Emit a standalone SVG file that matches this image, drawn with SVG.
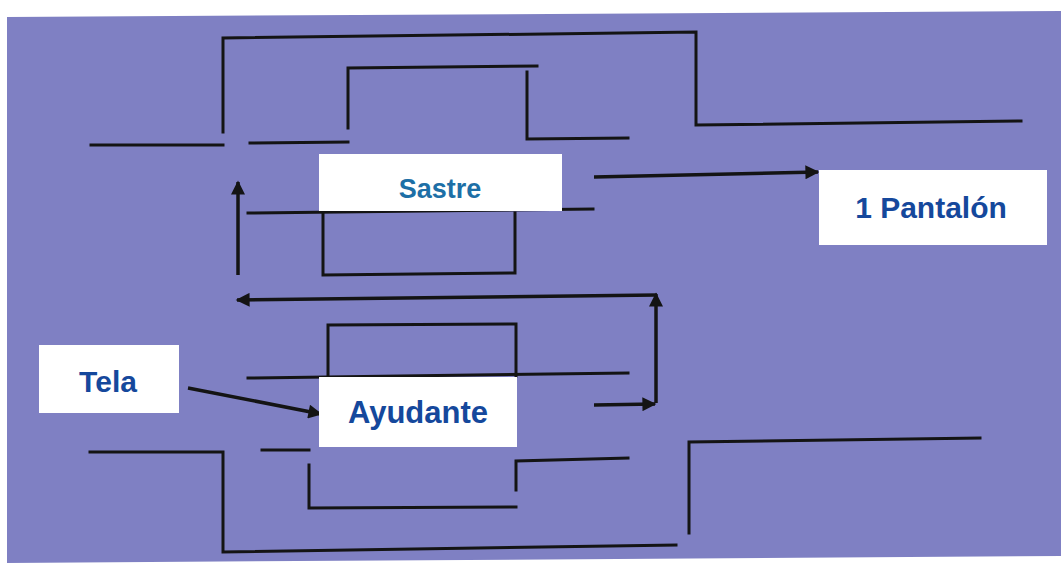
<svg xmlns="http://www.w3.org/2000/svg" width="1061" height="565" viewBox="0 0 1061 565">
<style>
.ln{fill:none;stroke:#141414;stroke-width:3;stroke-linecap:square}
.ar{fill:none;stroke:#141414;stroke-width:3.5}
.box{fill:#ffffff}
.t{font-family:"Liberation Sans",Arial,sans-serif;font-weight:bold;text-anchor:middle;fill:#15489c}
</style>
<defs>
<marker id="ah" viewBox="0 0 10 10" refX="9" refY="5" markerWidth="17" markerHeight="14" markerUnits="userSpaceOnUse" orient="auto">
<path d="M0,0 L10,5 L0,10 Z" fill="#141414"/>
</marker>
</defs>
<rect width="1061" height="565" fill="#ffffff"/>
<polygon points="7,17 1061,11 1061,556 7,563" fill="#7f80c3"/>
<g id="channels">
<polyline class="ln" points="91,145 223,145"/>
<polyline class="ln" points="223,132 223,38 696,32 696,125 1021,121"/>
<polyline class="ln" points="250,143 348,142"/>
<polyline class="ln" points="348,128 348,68 537,66"/>
<polyline class="ln" points="527,72 527,139 628,138"/>
<polyline class="ln" points="248,213 593,209"/>
<polyline class="ln" points="323,213 323,275 515,273 515,213"/>
<polyline class="ln" points="328,377 328,325 516,324 516,376"/>
<polyline class="ln" points="248,378 628,373"/>
<polyline class="ln" points="90,452 223,452 223,552 676,545"/>
<polyline class="ln" points="262,450 309,450"/>
<polyline class="ln" points="309,465 309,508 516,507"/>
<polyline class="ln" points="516,490 516,461 628,458"/>
<polyline class="ln" points="689,533 689,442 980,438"/>
</g>
<g id="connectors">
<line class="ar" x1="594" y1="177" x2="818" y2="172" marker-end="url(#ah)"/>
<line class="ar" x1="238" y1="275" x2="238" y2="182" marker-end="url(#ah)"/>
<polyline class="ar" points="656,403 656,294" marker-end="url(#ah)"/>
<polyline class="ar" points="657,295 237,300" marker-end="url(#ah)"/>
<line class="ar" x1="594" y1="405" x2="655" y2="404" marker-end="url(#ah)"/>
<line class="ar" x1="188" y1="388" x2="321" y2="414" marker-end="url(#ah)"/>
</g>
<g id="sastre">
<rect class="box" x="319" y="154" width="243" height="57"/>
<text class="t" x="440" y="198" font-size="27" style="fill:#1d6fa6">Sastre</text>
</g>
<g id="pantalon">
<rect class="box" x="819" y="170" width="228" height="75"/>
<text class="t" x="931" y="218" font-size="30">1 Pantalón</text>
</g>
<g id="tela">
<rect class="box" x="39" y="345" width="140" height="68"/>
<text class="t" x="108" y="392" font-size="30">Tela</text>
</g>
<g id="ayudante">
<rect class="box" x="319" y="377" width="198" height="70"/>
<text class="t" x="418" y="423" font-size="31">Ayudante</text>
</g>
</svg>
